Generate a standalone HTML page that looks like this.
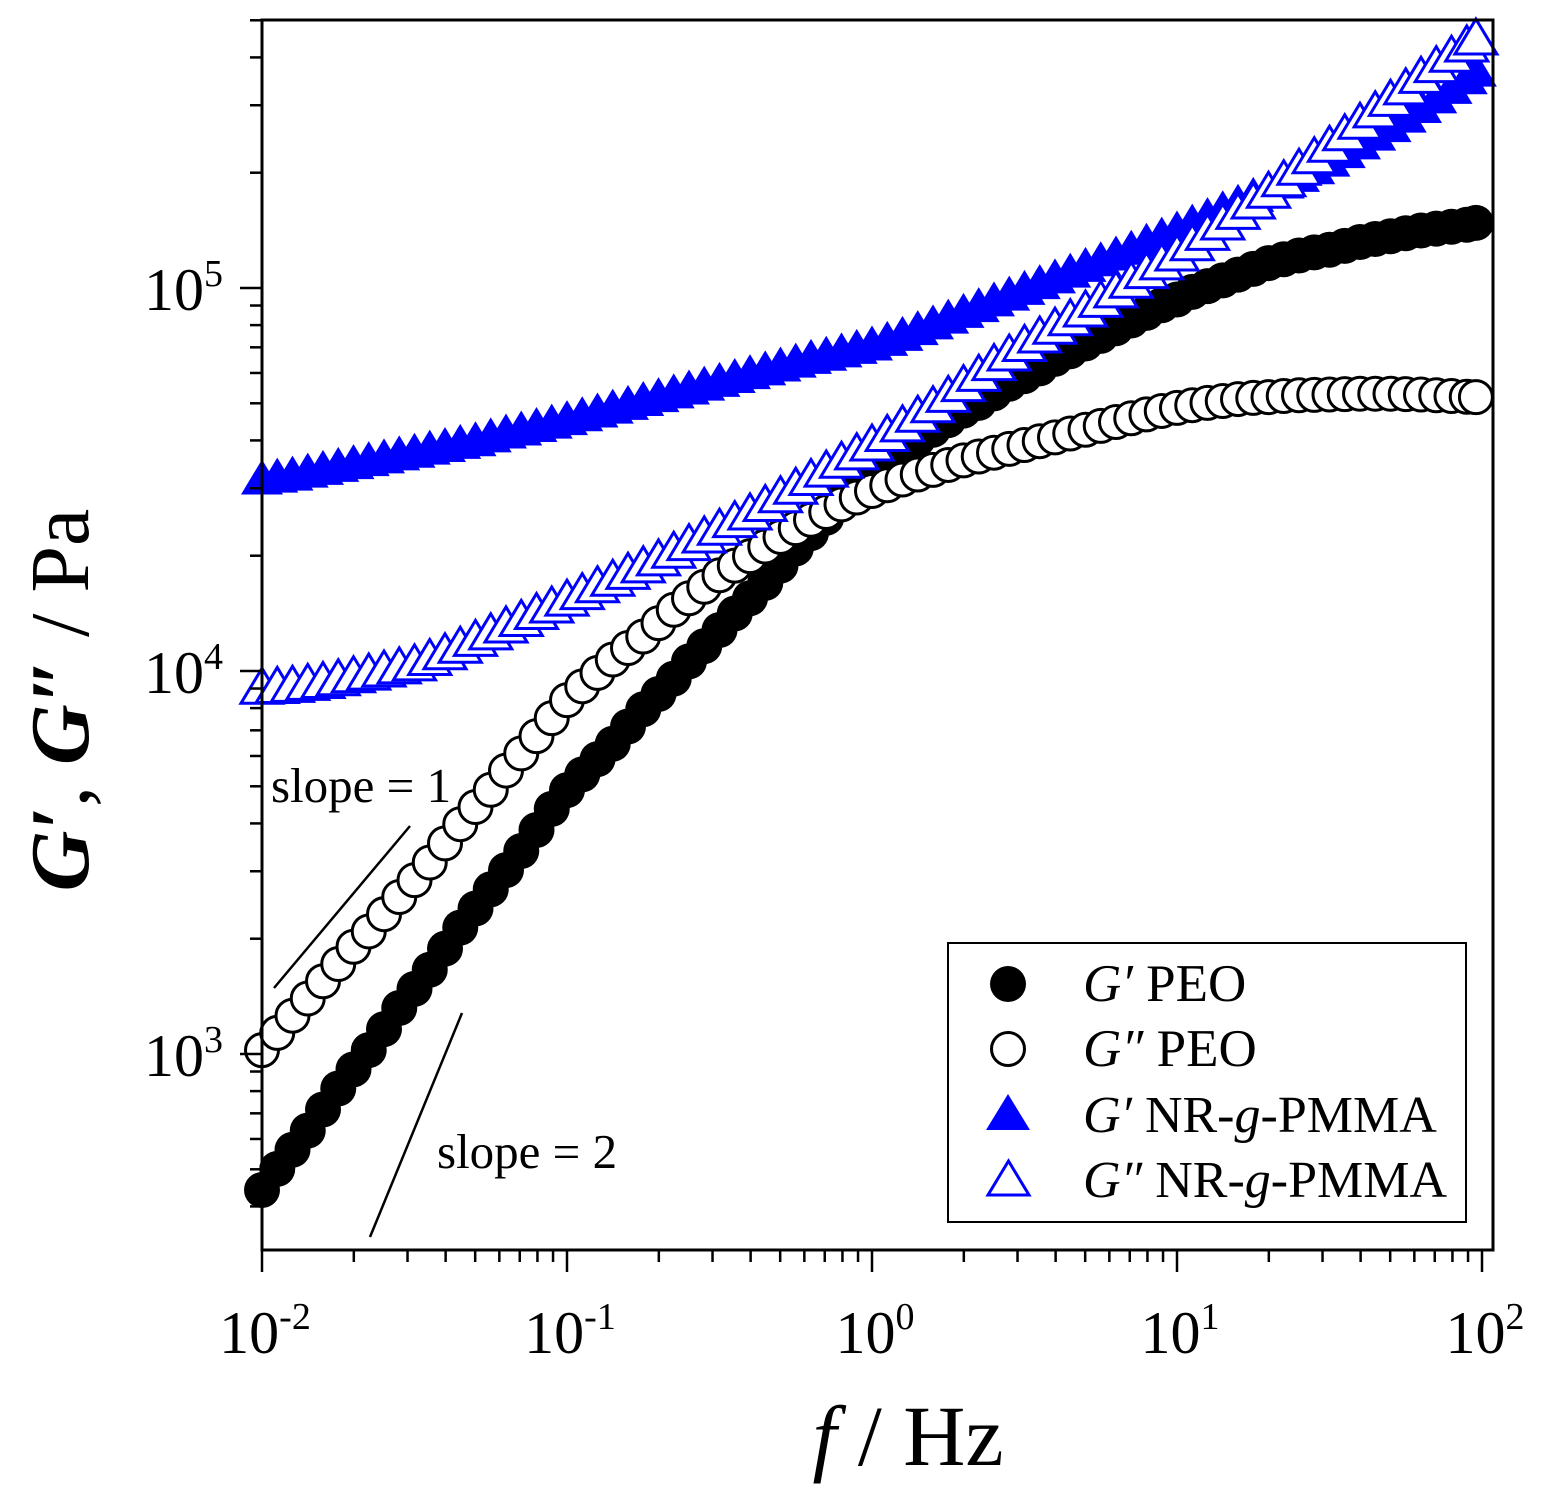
<!DOCTYPE html>
<html><head><meta charset="utf-8"><style>
html,body{margin:0;padding:0;background:#fff;}
svg{display:block;font-family:"Liberation Serif",serif;}
</style></head><body>
<svg id="chart" width="1543" height="1496" viewBox="0 0 1543 1496" xmlns="http://www.w3.org/2000/svg">
<g id="marks"></g>
<rect x="262" y="20" width="1231" height="1230" fill="none" stroke="#000" stroke-width="3"/>
<g id="axes"></g>
<line x1="274" y1="988" x2="410" y2="826" stroke="#000" stroke-width="2.5"/>
<line x1="370" y1="1237" x2="462" y2="1013" stroke="#000" stroke-width="2.5"/>
<text x="271" y="802" font-size="49">slope = 1</text>
<text x="437" y="1168" font-size="49">slope = 2</text>
<text x="908" y="1465" font-size="86" text-anchor="middle"><tspan font-style="italic">f</tspan> / Hz</text>
<text transform="translate(88,700) rotate(-90)" font-size="84" text-anchor="middle"><tspan font-style="italic" font-weight="bold">G′</tspan>, <tspan font-style="italic" font-weight="bold">G″</tspan> / Pa</text>
<g>
<rect x="948" y="943" width="518" height="279" fill="#fff" stroke="#000" stroke-width="2"/>
<circle cx="1008" cy="984" r="18" fill="#000"/>
<text x="1083" y="1001" font-size="53"><tspan font-style="italic">G′</tspan> PEO</text>
<circle cx="1008" cy="1049" r="16.5" fill="#fff" stroke="#000" stroke-width="3"/>
<text x="1083" y="1066" font-size="53"><tspan font-style="italic">G″</tspan> PEO</text>
<polygon points="986,1130 1030,1130 1008,1094" fill="#0000ff"/>
<text x="1083" y="1132" font-size="52"><tspan font-style="italic">G′</tspan> NR-<tspan font-style="italic">g</tspan>-PMMA</text>
<polygon points="988,1195 1029,1195 1008.5,1161" fill="#fff" stroke="#0000ff" stroke-width="3"/>
<text x="1083" y="1197" font-size="52"><tspan font-style="italic">G″</tspan> NR-<tspan font-style="italic">g</tspan>-PMMA</text>
</g>
</svg>
<script>
const logFreq = [-2,-1.95,-1.9,-1.85,-1.8,-1.75,-1.7,-1.65,-1.6,-1.55,-1.5,-1.45,-1.4,-1.35,-1.3,-1.25,-1.2,-1.15,-1.1,-1.05,-1,-0.95,-0.9,-0.85,-0.8,-0.75,-0.7,-0.65,-0.6,-0.55,-0.5,-0.45,-0.4,-0.35,-0.3,-0.25,-0.2,-0.15,-0.1,-0.05,0,0.05,0.1,0.15,0.2,0.25,0.3,0.35,0.4,0.45,0.5,0.55,0.6,0.65,0.7,0.75,0.8,0.85,0.9,0.95,1,1.05,1.1,1.15,1.2,1.25,1.3,1.35,1.4,1.45,1.5,1.55,1.6,1.65,1.7,1.75,1.8,1.85,1.9,1.95,1.98];
const gpPEO = [2.645,2.70,2.75,2.80,2.855,2.91,2.96,3.01,3.065,3.12,3.17,3.22,3.275,3.33,3.38,3.43,3.48,3.53,3.585,3.64,3.689,3.73,3.77,3.81,3.855,3.9,3.94,3.98,4.025,4.065,4.107,4.15,4.19,4.23,4.275,4.32,4.36,4.40,4.445,4.485,4.525,4.555,4.58,4.605,4.63,4.655,4.68,4.70,4.725,4.75,4.77,4.79,4.815,4.835,4.855,4.875,4.895,4.915,4.935,4.955,4.97,4.99,5.005,5.02,5.035,5.05,5.065,5.075,5.085,5.093,5.10,5.11,5.12,5.128,5.135,5.143,5.15,5.155,5.16,5.165,5.17];
const gppPEO = [3.01,3.055,3.10,3.145,3.19,3.235,3.28,3.32,3.365,3.41,3.454,3.50,3.55,3.60,3.645,3.69,3.74,3.785,3.83,3.877,3.924,3.96,3.995,4.03,4.06,4.09,4.125,4.16,4.19,4.22,4.25,4.275,4.30,4.325,4.35,4.373,4.395,4.415,4.435,4.453,4.47,4.485,4.50,4.513,4.525,4.538,4.55,4.56,4.57,4.58,4.59,4.60,4.61,4.62,4.63,4.64,4.65,4.66,4.67,4.679,4.687,4.694,4.70,4.705,4.71,4.713,4.715,4.718,4.72,4.721,4.722,4.723,4.724,4.724,4.724,4.723,4.722,4.72,4.718,4.716,4.715];
const gpNR = [4.50,4.505,4.51,4.518,4.525,4.533,4.54,4.548,4.555,4.563,4.57,4.578,4.585,4.593,4.60,4.61,4.62,4.628,4.637,4.646,4.655,4.665,4.675,4.685,4.695,4.705,4.715,4.725,4.735,4.745,4.755,4.765,4.775,4.785,4.795,4.805,4.815,4.823,4.832,4.841,4.85,4.862,4.875,4.89,4.905,4.92,4.935,4.95,4.965,4.98,4.995,5.01,5.025,5.04,5.055,5.07,5.085,5.10,5.118,5.134,5.15,5.168,5.185,5.203,5.22,5.238,5.255,5.273,5.29,5.31,5.33,5.352,5.375,5.398,5.42,5.445,5.47,5.495,5.52,5.545,5.565];
const gppNR = [3.955,3.957,3.96,3.965,3.97,3.977,3.985,3.992,4.0,4.008,4.016,4.03,4.045,4.062,4.08,4.097,4.115,4.132,4.15,4.167,4.185,4.202,4.22,4.237,4.255,4.272,4.29,4.31,4.33,4.35,4.37,4.39,4.41,4.432,4.455,4.477,4.50,4.522,4.545,4.567,4.59,4.615,4.64,4.665,4.69,4.717,4.745,4.772,4.80,4.825,4.85,4.872,4.895,4.917,4.94,4.965,4.99,5.015,5.04,5.063,5.086,5.113,5.14,5.167,5.195,5.222,5.25,5.28,5.31,5.34,5.37,5.40,5.43,5.46,5.49,5.52,5.55,5.578,5.605,5.632,5.65];
const xTickExps = [-2,-1,0,1,2];
const yTickExps = [3,4,5];

const NS='http://www.w3.org/2000/svg';
const X0=262, XD=305, Y5=288, YD=383;
const sx = lf => X0 + (lf+2)*XD;
const sy = lg => Y5 - (lg-5)*YD;
const marks=document.getElementById('marks');
const axes=document.getElementById('axes');
function mk(tag,attrs,parent){const e=document.createElementNS(NS,tag);for(const k in attrs)e.setAttribute(k,attrs[k]);parent.appendChild(e);return e;}

function drawCircles(vals,filled,name){
  logFreq.forEach((lf,i)=>{
    const c=mk('circle',{cx:sx(lf),cy:sy(vals[i]),r:filled?18:16.5,fill:filled?'#000':'#fff',stroke:'#000','stroke-width':filled?0:3},marks);
    
    
  });
}
function drawTris(vals,filled,name){
  logFreq.forEach((lf,i)=>{
    const x=sx(lf), y=sy(vals[i]);
    const p=mk('polygon',{points:`${x-21},${y+15} ${x+21},${y+15} ${x},${y-20}`,fill:filled?'#0000ff':'#fff',stroke:'#0000ff','stroke-width':filled?0:3},marks);
    
    
  });
}
drawCircles(gpPEO,true,'point-gp-peo');
drawCircles(gppPEO,false,'point-gpp-peo');
drawTris(gpNR,true,'point-gp-nr');
drawTris(gppNR,false,'point-gpp-nr');

for(let d=-2; d<=2; d++){
  for(let m=1;m<10;m++){
    const lf=d+Math.log10(m);
    if(lf>2.036) break;
    const x=sx(lf);
    const t=mk('line',{x1:x,y1:1250,x2:x,y2:m===1?1272:1262,stroke:'#000','stroke-width':2.5},axes);
    
    
  }
}
xTickExps.forEach(e=>{
  const t=mk('text',{x:sx(e)+3,y:1353,'font-size':60,'text-anchor':'middle'},axes);
  
  
  t.innerHTML='10<tspan dy="-24" font-size="38">'+e+'</tspan>';
});
for(let d=2; d<=5; d++){
  for(let m=1;m<10;m++){
    const lg=d+Math.log10(m);
    if(lg<2.488||lg>5.7) continue;
    const y=sy(lg);
    const t=mk('line',{x1:262,y1:y,x2:m===1?240:250,y2:y,stroke:'#000','stroke-width':2.5},axes);
    
    
  }
}
yTickExps.forEach(e=>{
  const t=mk('text',{x:144,y:sy(e)+22,'font-size':60},axes);
  
  
  t.innerHTML='10<tspan dy="-24" font-size="38">'+e+'</tspan>';
});
</script>
</body></html>
